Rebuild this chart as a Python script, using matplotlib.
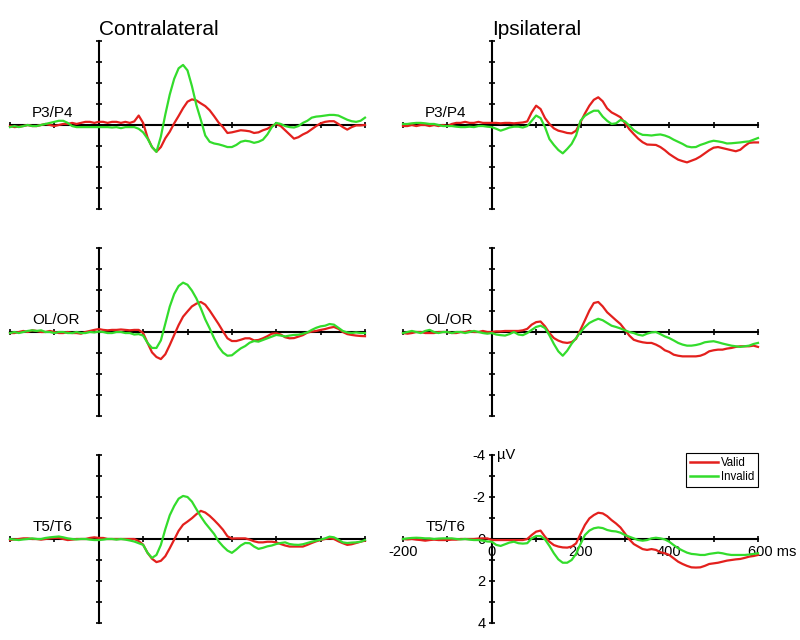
import numpy as np
import matplotlib
matplotlib.use("Agg")
import matplotlib.pyplot as plt
from matplotlib.lines import Line2D
from matplotlib.transforms import ScaledTranslation

plt.rcParams['font.family'] = ['Liberation Sans', 'DejaVu Sans']
plt.rcParams['axes.unicode_minus'] = False

# ---------------- data ----------------
time_ms = np.arange(-200, 601, 10)

columns = ['Contralateral', 'Ipsilateral']
sites = ['P3/P4', 'OL/OR', 'T5/T6']
conditions = ['Valid', 'Invalid']

x_tick_labels = ['-200', '', '0', '', '200', '', '400', '', '600 ms']
y_tick_labels = ['-4', '', '-2', '', '0', '', '2', '', '4']
y_unit = 'µV'

contra_p3p4_valid = [
    0.05, 0.1, 0.08, 0.05, 0.0, 0.05, 0.05, 0.0, -0.05, 0.0,
    0.05, 0.0, -0.05, -0.05, -0.1, -0.05, -0.1, -0.15, -0.15, -0.1,
    -0.15, -0.15, -0.1, -0.15, -0.15, -0.1, -0.15, -0.1, -0.17, -0.45,
    -0.1, 0.6, 1.05, 1.27, 1.05, 0.63, 0.32, -0.08, -0.43, -0.8,
    -1.11, -1.22, -1.17, -1.03, -0.9, -0.7, -0.42, -0.12, 0.1, 0.38,
    0.35, 0.3, 0.25, 0.27, 0.3, 0.38, 0.35, 0.25, 0.18, 0.05,
    -0.05, 0.05, 0.25, 0.45, 0.65, 0.58, 0.45, 0.35, 0.2, 0.05,
    -0.08, -0.15, -0.18, -0.18, -0.05, 0.1, 0.22, 0.1, 0.02, 0.02,
    0.0]
contra_p3p4_invalid = [
    0.1, 0.05, 0.1, 0.05, 0.0, 0.05, 0.05, 0.0, -0.05, -0.1,
    -0.15, -0.2, -0.2, -0.1, 0.05, 0.1, 0.1, 0.1, 0.1, 0.1,
    0.1, 0.1, 0.1, 0.12, 0.1, 0.15, 0.1, 0.1, 0.1, 0.18,
    0.35, 0.65, 1.05, 1.28, 0.55, -0.5, -1.45, -2.2, -2.7, -2.86,
    -2.6, -1.85, -0.95, -0.25, 0.5, 0.8, 0.88, 0.92, 0.98, 1.05,
    1.05, 0.95, 0.8, 0.75, 0.78, 0.85, 0.8, 0.7, 0.45, 0.1,
    -0.1, -0.05, 0.05, 0.1, 0.12, 0.05, -0.1, -0.2, -0.35, -0.4,
    -0.42, -0.45, -0.48, -0.48, -0.45, -0.35, -0.25, -0.18, -0.15, -0.2,
    -0.35]

ipsi_p3p4_valid = [
    0.05, 0.05, 0.0, 0.05, 0.0, 0.0, 0.05, 0.0, 0.05, 0.0,
    0.05, -0.05, -0.1, -0.1, -0.15, -0.1, -0.1, -0.15, -0.1, -0.1,
    -0.1, -0.1, -0.08, -0.1, -0.1, -0.08, -0.1, -0.12, -0.17, -0.6,
    -0.92, -0.76, -0.33, -0.05, 0.16, 0.27, 0.32, 0.38, 0.4, 0.27,
    -0.13, -0.55, -0.92, -1.2, -1.32, -1.13, -0.79, -0.6, -0.49, -0.37,
    -0.1, 0.2, 0.43, 0.65, 0.82, 0.93, 0.94, 0.95, 1.05, 1.2,
    1.38, 1.52, 1.65, 1.72, 1.78, 1.7, 1.62, 1.5, 1.35, 1.2,
    1.08, 1.05, 1.1, 1.15, 1.2, 1.25, 1.18, 1.0, 0.85, 0.83,
    0.83]
ipsi_p3p4_invalid = [
    -0.05, -0.05, -0.08, -0.1, -0.1, -0.08, -0.05, -0.05, 0.0, 0.05,
    0.05, 0.05, 0.08, 0.1, 0.1, 0.08, 0.1, 0.05, 0.05, 0.08,
    0.1, 0.18, 0.27, 0.2, 0.12, 0.08, 0.08, 0.12, 0.05, -0.2,
    -0.45, -0.33, 0.1, 0.67, 0.95, 1.19, 1.35, 1.14, 0.9, 0.5,
    -0.2, -0.44, -0.57, -0.68, -0.68, -0.4, -0.2, -0.05, -0.08, -0.24,
    -0.17, 0.03, 0.24, 0.38, 0.47, 0.48, 0.5, 0.47, 0.45, 0.5,
    0.58, 0.7, 0.8, 0.9, 1.02, 1.06, 1.05, 0.95, 0.88, 0.8,
    0.75, 0.78, 0.82, 0.88, 0.87, 0.85, 0.83, 0.8, 0.78, 0.7,
    0.62]

contra_olor_valid = [
    0.05, 0.05, 0.0, -0.05, 0.0, -0.08, -0.05, 0.0, 0.0, -0.05,
    0.0, 0.05, 0.05, 0.0, 0.05, 0.05, 0.08, 0.0, -0.05, -0.1,
    -0.14, -0.1, -0.08, -0.1, -0.1, -0.12, -0.1, -0.08, -0.1, -0.1,
    0.05, 0.52, 0.97, 1.19, 1.29, 1.06, 0.62, 0.14, -0.33, -0.73,
    -0.98, -1.22, -1.35, -1.43, -1.3, -1.02, -0.7, -0.38, -0.03, 0.3,
    0.43, 0.43, 0.37, 0.3, 0.3, 0.4, 0.38, 0.3, 0.2, 0.08,
    0.06, 0.12, 0.25, 0.3, 0.29, 0.22, 0.15, 0.03, -0.02, -0.05,
    -0.1, -0.14, -0.2, -0.24, -0.15, 0.0, 0.1, 0.14, 0.17, 0.19,
    0.2]
contra_olor_invalid = [
    0.05, 0.0, 0.05, 0.0, -0.05, -0.08, -0.05, -0.08, 0.0, 0.0,
    0.05, 0.0, 0.0, 0.05, 0.05, 0.0, 0.05, 0.05, 0.0, 0.02,
    -0.02, 0.0, 0.05, 0.05, 0.0, 0.0, 0.05, 0.05, 0.12, 0.1,
    0.17, 0.52, 0.76, 0.76, 0.4, -0.4, -1.21, -1.81, -2.19, -2.35,
    -2.25, -1.97, -1.6, -1.13, -0.6, -0.17, 0.3, 0.7, 0.98, 1.13,
    1.11, 0.94, 0.78, 0.67, 0.51, 0.43, 0.46, 0.38, 0.3, 0.22,
    0.14, 0.17, 0.21, 0.17, 0.14, 0.13, 0.08, 0.02, -0.1, -0.2,
    -0.27, -0.3, -0.38, -0.35, -0.2, -0.05, 0.02, 0.05, 0.02, 0.05,
    0.05]

ipsi_olor_valid = [
    0.05, 0.08, 0.05, 0.0, 0.0, 0.05, 0.05, 0.05, 0.0, 0.0,
    0.0, 0.05, 0.05, 0.0, 0.0, -0.05, 0.0, 0.0, -0.05, 0.0,
    0.0, -0.03, -0.03, -0.05, -0.05, -0.05, -0.05, -0.08, -0.15, -0.35,
    -0.47, -0.5, -0.27, 0.05, 0.29, 0.41, 0.49, 0.52, 0.48, 0.33,
    -0.11, -0.56, -1.02, -1.38, -1.43, -1.22, -0.94, -0.75, -0.56, -0.38,
    -0.11, 0.17, 0.37, 0.44, 0.49, 0.52, 0.52, 0.6, 0.71, 0.87,
    0.95, 1.08, 1.13, 1.16, 1.16, 1.16, 1.16, 1.13, 1.05, 0.92,
    0.87, 0.84, 0.84, 0.79, 0.76, 0.71, 0.68, 0.68, 0.68, 0.65,
    0.71]
ipsi_olor_invalid = [
    0.05, 0.0, -0.05, 0.0, 0.05, -0.05, -0.1, 0.0, 0.05, 0.0,
    0.0, 0.05, 0.0, 0.0, 0.05, 0.0, -0.05, 0.0, 0.05, 0.08,
    0.05, 0.12, 0.15, 0.17, 0.1, 0.0, 0.12, 0.15, 0.05, -0.1,
    -0.24, -0.3, -0.19, 0.16, 0.57, 0.92, 1.13, 0.89, 0.56, 0.29,
    0.0, -0.24, -0.43, -0.54, -0.63, -0.56, -0.43, -0.3, -0.24, -0.17,
    -0.08, 0.0, 0.05, 0.13, 0.17, 0.08, 0.02, 0.0, 0.1, 0.21,
    0.29, 0.4, 0.52, 0.6, 0.65, 0.65, 0.62, 0.57, 0.49, 0.46,
    0.44, 0.49, 0.55, 0.6, 0.65, 0.68, 0.71, 0.68, 0.65, 0.57,
    0.52]

contra_t5t6_valid = [
    0.05, 0.02, 0.0, -0.03, -0.03, 0.0, 0.0, 0.03, 0.0, -0.03,
    -0.05, -0.05, 0.0, 0.05, 0.03, 0.0, 0.0, 0.0, -0.05, -0.08,
    -0.05, -0.05, 0.0, 0.0, 0.0, 0.0, 0.0, 0.0, 0.0, 0.1,
    0.27, 0.66, 0.94, 1.1, 1.04, 0.82, 0.44, 0.03, -0.39, -0.68,
    -0.83, -0.99, -1.18, -1.34, -1.26, -1.1, -0.9, -0.68, -0.44, -0.13,
    -0.02, -0.03, -0.03, -0.03, 0.03, 0.11, 0.16, 0.16, 0.13, 0.13,
    0.16, 0.24, 0.31, 0.36, 0.36, 0.36, 0.36, 0.28, 0.19, 0.11,
    0.05, 0.0, -0.03, 0.0, 0.11, 0.2, 0.28, 0.25, 0.19, 0.13,
    0.08]
contra_t5t6_invalid = [
    0.0, 0.03, 0.05, 0.02, 0.0, -0.03, 0.0, 0.0, -0.05, -0.08,
    -0.1, -0.12, -0.08, -0.03, 0.0, 0.02, 0.0, 0.0, 0.03, 0.05,
    0.05, 0.03, 0.0, 0.0, 0.03, 0.0, 0.03, 0.07, 0.12, 0.2,
    0.28, 0.66, 0.9, 0.76, 0.28, -0.47, -1.13, -1.57, -1.92, -2.05,
    -2.0, -1.78, -1.42, -1.07, -0.76, -0.5, -0.24, 0.11, 0.35, 0.55,
    0.66, 0.5, 0.31, 0.19, 0.2, 0.36, 0.47, 0.42, 0.35, 0.31,
    0.24, 0.19, 0.16, 0.24, 0.27, 0.28, 0.25, 0.19, 0.13, 0.08,
    0.03, -0.03, -0.11, -0.08, 0.03, 0.16, 0.19, 0.17, 0.16, 0.13,
    0.05]

ipsi_t5t6_valid = [
    0.0, 0.02, 0.0, 0.03, 0.05, 0.08, 0.05, 0.03, 0.05, 0.05,
    0.05, 0.03, 0.03, 0.0, 0.0, 0.0, 0.0, -0.02, -0.03, -0.03,
    0.05, 0.05, 0.05, 0.05, 0.05, 0.05, 0.05, 0.05, 0.0, -0.19,
    -0.35, -0.4, -0.11, 0.13, 0.29, 0.36, 0.4, 0.41, 0.36, 0.21,
    -0.24, -0.67, -0.98, -1.14, -1.25, -1.22, -1.09, -0.9, -0.74, -0.55,
    -0.27, 0.02, 0.24, 0.36, 0.48, 0.52, 0.48, 0.52, 0.63, 0.68,
    0.76, 0.92, 1.08, 1.19, 1.28, 1.35, 1.36, 1.35, 1.28, 1.19,
    1.16, 1.13, 1.08, 1.03, 1.0, 0.97, 0.95, 0.9, 0.84, 0.81,
    0.76]
ipsi_t5t6_invalid = [
    0.0, -0.03, -0.05, -0.06, -0.05, -0.03, -0.03, 0.0, -0.02, -0.03,
    -0.03, -0.03, 0.0, 0.02, 0.0, 0.03, 0.05, 0.05, 0.08, 0.12,
    0.13, 0.28, 0.33, 0.25, 0.17, 0.13, 0.2, 0.22, 0.2, -0.03,
    -0.14, -0.14, 0.02, 0.33, 0.68, 0.97, 1.13, 1.13, 1.0, 0.71,
    0.24, -0.19, -0.4, -0.51, -0.55, -0.52, -0.43, -0.38, -0.36, -0.3,
    -0.19, -0.11, -0.03, 0.05, 0.08, 0.05, -0.03, -0.06, -0.03, 0.02,
    0.13, 0.29, 0.44, 0.55, 0.65, 0.71, 0.73, 0.76, 0.76, 0.71,
    0.68, 0.65, 0.68, 0.73, 0.76, 0.76, 0.76, 0.76, 0.74, 0.71,
    0.68]

panel_data = [
    [(contra_p3p4_valid, contra_p3p4_invalid), (ipsi_p3p4_valid, ipsi_p3p4_invalid)],
    [(contra_olor_valid, contra_olor_invalid), (ipsi_olor_valid, ipsi_olor_invalid)],
    [(contra_t5t6_valid, contra_t5t6_invalid), (ipsi_t5t6_valid, ipsi_t5t6_invalid)],
]

# ---------------- styling ----------------
RED = '#e3201d'
GREEN = '#33dc2c'
colors = [RED, GREEN]

fig = plt.figure(figsize=(8, 6.4), dpi=100)
fig.patch.set_facecolor('white')

col_left = [10 / 800, 403 / 800]
row_bottom = [1 - 209 / 640, 1 - 416 / 640, 1 - 623 / 640]
ax_w = 355 / 800
ax_h = 168 / 640

for r, site in enumerate(sites):
    for c, col_name in enumerate(columns):
        ax = fig.add_axes([col_left[c], row_bottom[r], ax_w, ax_h])
        ax.set_xlim(-200, 600)
        ax.set_ylim(4, -4)
        ax.patch.set_visible(False)
        for side in ('top', 'right'):
            ax.spines[side].set_visible(False)
        ax.spines['left'].set_position(('data', 0))
        ax.spines['bottom'].set_position(('data', 0))
        for side in ('left', 'bottom'):
            ax.spines[side].set_linewidth(1.5)
            ax.spines[side].set_zorder(2)

        ax.set_xticks(np.arange(-200, 601, 100))
        ax.set_yticks(np.arange(-4, 5, 1))
        ax.set_xticks([-200, 600], minor=True)
        ax.set_yticks([-4, 4], minor=True)
        ax.tick_params(which='major', direction='inout', length=5, width=1.2,
                       colors='black', labelsize=10.5, pad=2)
        ax.tick_params(which='minor', direction='inout', length=8, width=1.5,
                       colors='black')

        valid, invalid = panel_data[r][c]
        ax.plot(time_ms, valid, color=RED, lw=1.6, zorder=3, clip_on=False)
        ax.plot(time_ms, invalid, color=GREEN, lw=1.6, zorder=3, clip_on=False)

        ax.text(-150, -0.38, site, fontsize=11, ha='left', va='baseline')

        if r == 0:
            ax.annotate(col_name, xy=(0, 1), xycoords=('data', 'axes fraction'),
                        xytext=(0, 4.5), textcoords='offset points',
                        ha='left', va='baseline', fontsize=15)

        if r == 2 and c == 1:
            ax.set_xticklabels(x_tick_labels)
            ax.set_yticklabels(y_tick_labels)
            last = ax.get_xticklabels()[-1]
            last.set_ha('left')
            last.set_transform(last.get_transform() +
                               ScaledTranslation(-10 / 100, 0, fig.dpi_scale_trans))
            ax.annotate(y_unit, xy=(0, -4), xycoords='data', xytext=(4, 0),
                        textcoords='offset points', ha='left', va='center',
                        fontsize=10.5)
            handles = [Line2D([], [], color=col, lw=1.8) for col in colors]
            leg = ax.legend(handles, conditions, loc='upper right',
                            bbox_to_anchor=(1.0, 1.012), fancybox=False,
                            edgecolor='black', framealpha=1, fontsize=8.3,
                            handlelength=2.4, handletextpad=0.25,
                            borderpad=0.35, labelspacing=0.15, borderaxespad=0)
            leg.get_frame().set_linewidth(0.8)
        else:
            ax.tick_params(which='both', labelbottom=False, labelleft=False)

fig.savefig('out.png', dpi=100, facecolor='white')
